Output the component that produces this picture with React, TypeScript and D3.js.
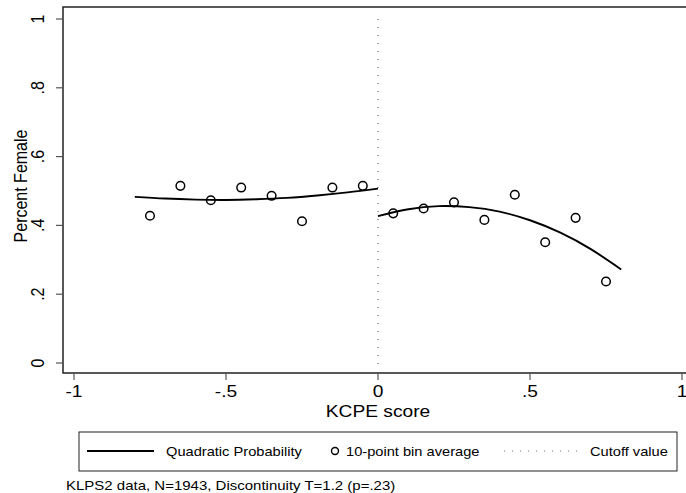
import React from 'react';
import { scaleLinear, line, curveNatural } from 'd3';

const width = 686;
const height = 493;
const stretch = 1.2; // picture is drawn a bit wider than tall

// 10-point bin averages
const binLeftX = [-0.75, -0.65, -0.55, -0.45, -0.35, -0.25, -0.15, -0.05];
const binLeftY = [0.428, 0.515, 0.473, 0.510, 0.486, 0.412, 0.510, 0.515];
const binRightX = [0.05, 0.15, 0.25, 0.35, 0.45, 0.55, 0.65, 0.75];
const binRightY = [0.435, 0.449, 0.467, 0.416, 0.489, 0.351, 0.422, 0.237];

// quadratic fit
const fitLeftX = [-0.8, -0.7, -0.6, -0.5, -0.4, -0.3, -0.2, -0.1, 0];
const fitLeftY = [0.483, 0.478, 0.475, 0.474, 0.476, 0.480, 0.487, 0.496, 0.507];
const fitRightX = [0, 0.1, 0.2, 0.3, 0.4, 0.5, 0.6, 0.7, 0.8];
const fitRightY = [0.427, 0.447, 0.456, 0.453, 0.440, 0.415, 0.379, 0.331, 0.272];

const xTicks = [-1, -0.5, 0, 0.5, 1];
const yTicks = [0, 0.2, 0.4, 0.6, 0.8, 1];
const cutoff = 0;

const xTitle = 'KCPE score';
const yTitle = 'Percent Female';
const legendLabels = ['Quadratic Probability', '10-point bin average', 'Cutoff value'];
const note = 'KLPS2 data, N=1943, Discontinuity T=1.2 (p=.23)';

const frame = { left: 63, top: 7, bottom: 373, right: width };

const fmt = (v: number) => {
  if (v === 0 || Math.abs(v) === 1) return String(v);
  return String(v).replace('0.', '.');
};

const font = 'Arial, "Liberation Sans", Helvetica, sans-serif';

const App = () => {
  const xScale = scaleLinear().domain([-1, 1]).range([74, 682]);
  const yScale = scaleLinear().domain([0, 1]).range([363, 19]);

  const fitLine = line<[number, number]>()
    .x(d => xScale(d[0]))
    .y(d => yScale(d[1]))
    .curve(curveNatural);

  const leftPts = fitLeftX.map((x, i) => [x, fitLeftY[i]] as [number, number]);
  const rightPts = fitRightX.map((x, i) => [x, fitRightY[i]] as [number, number]);
  const bins = [
    ...binLeftX.map((x, i) => [x, binLeftY[i]]),
    ...binRightX.map((x, i) => [x, binRightY[i]]),
  ];

  const hText = (x: number, y: number, size: number, anchor: string, txt: string) => (
    <text
      transform={`translate(${x},${y}) scale(${stretch},1)`}
      fontSize={size}
      textAnchor={anchor}
      fontFamily={font}
      fill="#000"
    >
      {txt}
    </text>
  );

  const legendY = 451;

  return (
    <svg
      width={width}
      height={height}
      style={{ position: 'absolute', left: 0, top: 0, background: '#fff' }}
    >
      <rect x={0} y={0} width={width} height={height} fill="#fff" />

      {/* cutoff */}
      <line
        x1={xScale(cutoff)}
        x2={xScale(cutoff)}
        y1={yScale(1)}
        y2={yScale(0) + 3}
        stroke="#6f6f6f"
        strokeWidth={1.2}
        strokeDasharray="1 7"
      />

      {/* fitted curves */}
      <path d={fitLine(leftPts) || ''} fill="none" stroke="#000" strokeWidth={1.9} />
      <path d={fitLine(rightPts) || ''} fill="none" stroke="#000" strokeWidth={1.9} />

      {/* bin averages */}
      {bins.map((d, i) => (
        <circle
          key={i}
          cx={xScale(d[0])}
          cy={yScale(d[1])}
          r={4.3}
          fill="none"
          stroke="#000"
          strokeWidth={1.5}
        />
      ))}

      {/* frame */}
      <path
        d={`M${frame.right},${frame.top}H${frame.left}V${frame.bottom}H${frame.right}`}
        fill="none"
        stroke="#222"
        strokeWidth={1.5}
      />

      {/* y axis */}
      {yTicks.map(t => (
        <g key={t}>
          <line x1={56} x2={frame.left} y1={yScale(t)} y2={yScale(t)} stroke="#555" strokeWidth={1.2} />
          <text
            transform={`translate(44,${yScale(t)}) scale(${stretch},1) rotate(-90)`}
            fontSize={16}
            textAnchor="middle"
            fontFamily={font}
          >
            {fmt(t)}
          </text>
        </g>
      ))}
      <text
        transform={`translate(27,186) scale(${stretch},1) rotate(-90)`}
        fontSize={16}
        textAnchor="middle"
        fontFamily={font}
      >
        {yTitle}
      </text>

      {/* x axis */}
      {xTicks.map(t => (
        <g key={t}>
          <line x1={xScale(t)} x2={xScale(t)} y1={frame.bottom} y2={380} stroke="#555" strokeWidth={1.2} />
          {hText(xScale(t), 397, 16, 'middle', fmt(t))}
        </g>
      ))}
      {hText(xScale(0), 417, 16, 'middle', xTitle)}

      {/* legend */}
      <rect x={79} y={432} width={598} height={39} fill="#fff" stroke="#222" strokeWidth={1} />
      <line x1={87} x2={154} y1={legendY} y2={legendY} stroke="#000" strokeWidth={1.8} />
      {hText(166, legendY + 4.5, 12.2, 'start', legendLabels[0])}
      <circle cx={335} cy={legendY} r={3.5} fill="none" stroke="#000" strokeWidth={1.4} />
      {hText(346, legendY + 4.5, 12.2, 'start', legendLabels[1])}
      <line
        x1={504}
        x2={578}
        y1={legendY}
        y2={legendY}
        stroke="#777"
        strokeWidth={1}
        strokeDasharray="1 7"
      />
      {hText(590, legendY + 4.5, 12.2, 'start', legendLabels[2])}

      {/* note */}
      {hText(66, 490, 12.5, 'start', note)}
    </svg>
  );
};

export default App;
